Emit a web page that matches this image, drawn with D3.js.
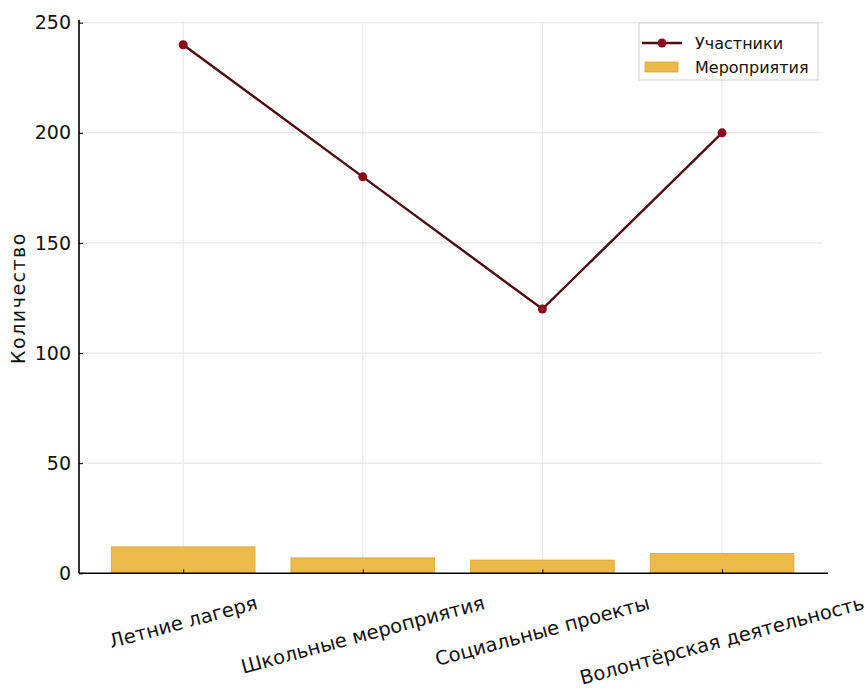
<!DOCTYPE html>
<html>
<head>
<meta charset="utf-8">
<script src="https://cdn.jsdelivr.net/npm/d3@7"></script>
<style>
  body { margin: 0; background: #fff; }
  svg text { font-family: "DejaVu Sans", sans-serif; fill: #111; }
</style>
</head>
<body>
<svg class="chart"></svg>
<script>
var width = 866,
    height = 700;

// data
var categories = ["Летние лагеря", "Школьные мероприятия", "Социальные проекты", "Волонтёрская деятельность"];
var participants = [240, 180, 120, 200];
var events = [12, 7, 6, 9];
var yTicks = [0, 50, 100, 150, 200, 250];

var pLeft = 79, pRight = 828, pTop = 22.7, pBottom = 573.3;

var x = d3.scaleLinear()
    .domain([-0.58, 3.59])
    .range([pLeft, pRight]);

var y = d3.scaleLinear()
    .domain([0, 250])
    .range([pBottom, pTop]);

var chart = d3.select(".chart")
    .attr("width", width)
    .attr("height", height);

// grid
var grid = chart.append("g");
grid.selectAll("line.h")
    .data(yTicks.filter(function(d) { return d > 0; }))
  .enter().append("line")
    .attr("x1", pLeft).attr("x2", pRight - 5)
    .attr("y1", function(d) { return y(d); })
    .attr("y2", function(d) { return y(d); })
    .attr("stroke", "#e2e2e2").attr("stroke-width", 1);
grid.selectAll("line.v")
    .data(categories)
  .enter().append("line")
    .attr("x1", function(d, i) { return x(i); })
    .attr("x2", function(d, i) { return x(i); })
    .attr("y1", pTop).attr("y2", pBottom)
    .attr("stroke", "#e6e6e6").attr("stroke-width", 1);

// bars
chart.selectAll("rect.bar")
    .data(events)
  .enter().append("rect")
    .attr("class", "bar")
    .attr("x", function(d, i) { return x(i - 0.4); })
    .attr("width", x(0.8) - x(0))
    .attr("y", function(d) { return y(d); })
    .attr("height", function(d) { return pBottom - y(d); })
    .attr("fill", "#edb948")
    .attr("stroke", "#d9a636")
    .attr("stroke-width", 0.8);

// line
var line = d3.line()
    .x(function(d, i) { return x(i); })
    .y(function(d) { return y(d); });

chart.append("path")
    .datum(participants)
    .attr("d", line)
    .attr("fill", "none")
    .attr("stroke", "#4e0d12")
    .attr("stroke-width", 2.4);

chart.selectAll("circle.pt")
    .data(participants)
  .enter().append("circle")
    .attr("cx", function(d, i) { return x(i); })
    .attr("cy", function(d) { return y(d); })
    .attr("r", 4.5)
    .attr("fill", "#8b0a1a");

// axes
var yAxis = d3.axisLeft(y).tickValues(yTicks).tickSize(-4).tickPadding(8);
var gy = chart.append("g")
    .attr("transform", "translate(" + pLeft + ",0)")
    .call(yAxis);
gy.select(".domain").attr("stroke", "#000").attr("stroke-width", 1.6).attr("d", "M0," + (pTop - 3) + "V" + pBottom);
gy.selectAll("text").style("font-size", "19px").attr("fill", "#111");

var xAxis = d3.axisBottom(x).tickValues([0, 1, 2, 3]).tickSize(-4).tickFormat("");
var gx = chart.append("g")
    .attr("transform", "translate(0," + pBottom + ")")
    .call(xAxis);
gx.select(".domain").attr("stroke", "#000").attr("stroke-width", 1.6).attr("d", "M" + pLeft + ",0H" + pRight);

// rotated x labels, bbox top aligned under the axis
var ang = 15 * Math.PI / 180;
var labels = chart.selectAll("text.xl")
    .data(categories)
  .enter().append("text")
    .attr("class", "xl")
    .style("font-size", "19.5px")
    .attr("text-anchor", "middle")
    .attr("dominant-baseline", "central")
    .text(function(d) { return d; });
labels.each(function(d, i) {
    var w = this.getComputedTextLength();
    var h = 17;
    var H = w * Math.sin(ang) + h * Math.cos(ang);
    d3.select(this).attr("transform", "translate(" + x(i) + "," + (pBottom + 21 + H / 2) + ") rotate(-15)");
});

// y label
chart.append("text")
    .attr("transform", "translate(18," + ((pTop + pBottom) / 2 + 0) + ") rotate(-90)")
    .attr("text-anchor", "middle")
    .attr("dominant-baseline", "central")
    .style("font-size", "19px")
    .style("letter-spacing", "1.5px")
    .text("Количество");

// legend
var lg = chart.append("g").attr("transform", "translate(639,23)");
lg.append("rect")
    .attr("width", 179).attr("height", 57)
    .attr("fill", "#fff").attr("fill-opacity", 0.85)
    .attr("stroke", "#d0d0d0").attr("stroke-width", 1);
lg.append("line")
    .attr("x1", 3).attr("x2", 43).attr("y1", 20).attr("y2", 20)
    .attr("stroke", "#4e0d12").attr("stroke-width", 2.4);
lg.append("circle").attr("cx", 23).attr("cy", 20).attr("r", 4.5).attr("fill", "#8b0a1a");
lg.append("text").attr("x", 56).attr("y", 20).attr("dominant-baseline", "central")
    .style("font-size", "16px").text("Участники");
lg.append("rect").attr("x", 6).attr("y", 39).attr("width", 33).attr("height", 10)
    .attr("fill", "#edb948").attr("stroke", "#d9a636").attr("stroke-width", 0.8);
lg.append("text").attr("x", 56).attr("y", 44).attr("dominant-baseline", "central")
    .style("font-size", "16px").text("Мероприятия");
</script>
</body>
</html>
